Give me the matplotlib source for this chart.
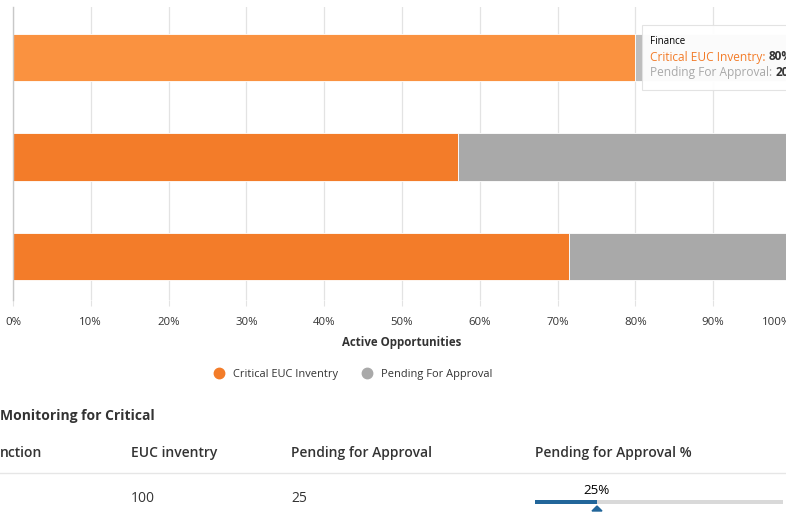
import matplotlib.pyplot as plt
from matplotlib.patches import Rectangle, Polygon

plt.rcParams['font.family'] = ['Open Sans', 'DejaVu Sans']

# chart data
categories = ["Finance", "Category 2", "Category 3"]
critical_euc = [80, 57.14, 71.43]
pending_approval = [20, 42.86, 28.57]
x_ticks = [0, 10, 20, 30, 40, 50, 60, 70, 80, 90, 100]
series_names = ["Critical EUC Inventry", "Pending For Approval"]

# table data
table_title = "Monitoring for Critical"
table_headers = ["nction", "EUC inventry", "Pending for Approval", "Pending for Approval %"]
row_euc = 100
row_pending = 25
row_pct = 25

W, H = 786, 517
ORANGE = "#f37c29"
ORANGE_HI = "#fa9240"
GREY = "#a9a9a9"
GREY_HI = "#bdbdbd"
TXT = "#333333"


def fx(x):
    return x / W


def fy(y):
    return 1 - y / H


fig = plt.figure(figsize=(W / 100, H / 100), dpi=100)

# main stacked bar chart, axis spans 13px..791px (right side cut off)
ax = fig.add_axes([fx(13), fy(300), (791 - 13) / W, (300 - 7) / H])
ypos = list(range(len(categories)))
orange_cols = [ORANGE_HI] + [ORANGE] * (len(categories) - 1)
grey_cols = [GREY_HI] + [GREY] * (len(categories) - 1)
ax.barh(ypos, critical_euc, height=0.473, color=orange_cols,
        edgecolor="white", linewidth=0.6, zorder=3)
ax.barh(ypos, pending_approval, left=critical_euc, height=0.473,
        color=grey_cols, edgecolor="white", linewidth=0.6, zorder=3)
ax.set_xlim(0, 100)
ax.set_ylim(2.437, -0.5075)
ax.set_xticks(x_ticks)
ax.set_xticklabels([f"{t}%" for t in x_ticks], fontsize=8.2, color=TXT)
ax.get_xticklabels()[-1].set_ha("right")  # last label kept inside plot
ax.set_yticks(ypos)
ax.set_yticklabels([])
ax.tick_params(axis="y", length=0)
ax.tick_params(axis="x", length=4, color="#e3e3e3", pad=8)
ax.grid(axis="x", color="#e3e3e3", linewidth=0.9, zorder=0)
for s in ["top", "right", "bottom"]:
    ax.spines[s].set_visible(False)
ax.spines["left"].set_color("#c8c8c8")
ax.spines["left"].set_linewidth(1.0)
ax.spines["left"].set_zorder(4)
ax.set_xlabel("Active Opportunities", fontsize=8.3, fontweight="bold",
              color=TXT, labelpad=6)

# legend
handles = [plt.Line2D([], [], marker="o", linestyle="", markersize=7.5,
                      color=c) for c in (ORANGE, GREY)]
fig.legend(handles, series_names, loc="center", ncol=2,
           bbox_to_anchor=(fx(350), fy(374)), frameon=False, fontsize=7.9,
           handletextpad=0.3, columnspacing=1.6, labelcolor=TXT)

# tooltip
fig.patches.append(Rectangle((fx(642), fy(90)), fx(160), (90 - 25) / H,
                             transform=fig.transFigure, facecolor="white",
                             edgecolor="#e2e2e2", linewidth=0.8, alpha=0.95,
                             zorder=5))
fig.text(fx(650), fy(41), categories[0], fontsize=7, color="black",
         va="center", zorder=6)
t1 = fig.text(fx(650), fy(57), f"{series_names[0]}: ", fontsize=8.6,
              color=ORANGE, va="center", zorder=6)
t2 = fig.text(fx(650), fy(73), f"{series_names[1]}: ", fontsize=8.6,
              color=GREY, va="center", zorder=6)
fig.canvas.draw()
r = fig.canvas.get_renderer()
for t, v in ((t1, critical_euc[0]), (t2, pending_approval[0])):
    bb = t.get_window_extent(r)
    fig.text(bb.x1 / W, t.get_position()[1], f"{v:.0f}%", fontsize=8.6,
             fontweight="bold", color=TXT, va="center", zorder=6)

# table section
fig.text(fx(0), fy(416), table_title, fontsize=10, fontweight="bold",
         color=TXT, va="center")
for x, h in zip([0, 131, 291, 535], table_headers):
    fig.text(fx(x), fy(453), h, fontsize=10, fontweight="semibold",
             color=TXT, va="center")
fig.add_artist(plt.Line2D([0, 1], [fy(473), fy(473)], color="#e6e6e6",
                          linewidth=1.0))
fig.text(fx(131), fy(498), str(row_euc), fontsize=10, color=TXT, va="center")
fig.text(fx(291), fy(498), str(row_pending), fontsize=10, color=TXT,
         va="center")

# progress bar
pax = fig.add_axes([fx(535), fy(504), (783 - 535) / W, 4 / H])
pax.barh([0], [100], height=1, color="#d9d9d9")
pax.barh([0], [row_pct], height=1, color="#22669a")
pax.set_xlim(0, 100)
pax.set_ylim(-0.5, 0.5)
pax.axis("off")
xp = 535 + (783 - 535) * row_pct / 100
fig.text(fx(xp), fy(491), f"{row_pct}%", fontsize=9.6, color="black",
         ha="center", va="center")
fig.patches.append(Polygon([(fx(xp - 5), fy(511)), (fx(xp + 5), fy(511)),
                            (fx(xp), fy(506))], closed=True,
                           transform=fig.transFigure, color="#22669a"))

fig.savefig("out.png", dpi=100)
